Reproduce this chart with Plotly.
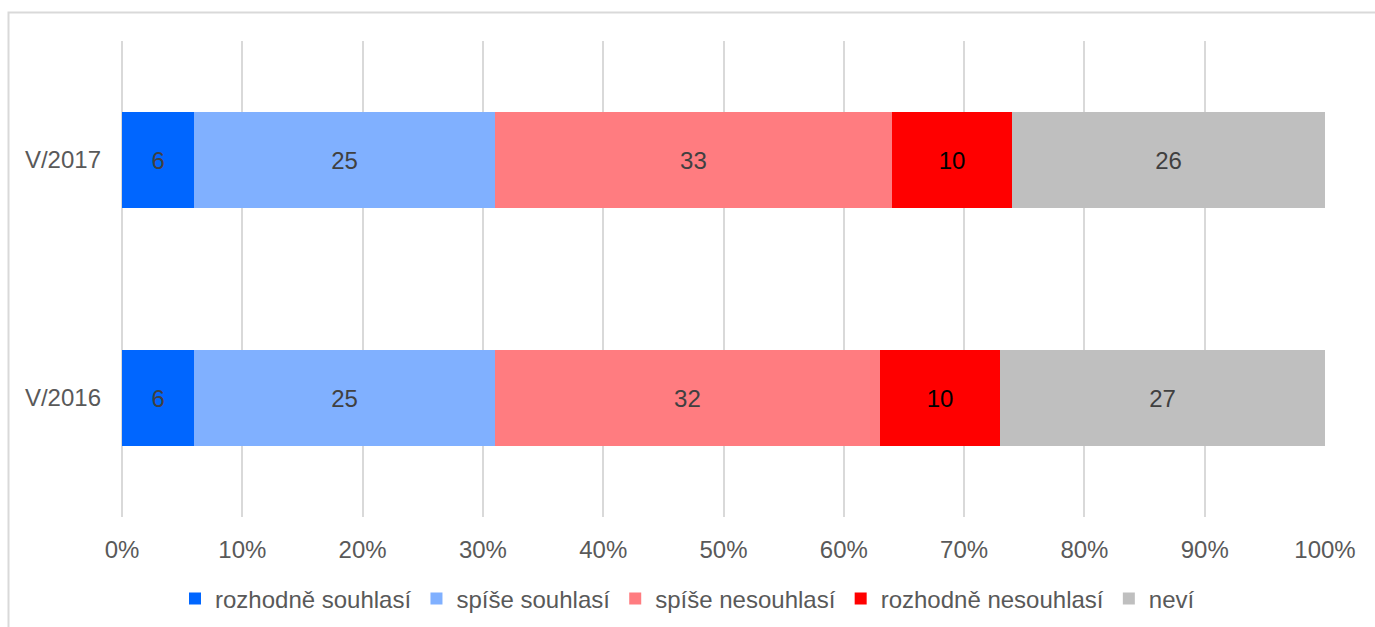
import plotly.graph_objects as go

categories = ["V/2016", "V/2017"]
series_names = ["rozhodně souhlasí", "spíše souhlasí", "spíše nesouhlasí", "rozhodně nesouhlasí", "neví"]
rozhodne_souhlasi = [6, 6]
spise_souhlasi = [25, 25]
spise_nesouhlasi = [32, 33]
rozhodne_nesouhlasi = [10, 10]
nevi = [27, 26]
tick_vals = [0, 10, 20, 30, 40, 50, 60, 70, 80, 90, 100]
tick_text = [f"{v}%" for v in tick_vals]

series_values = [rozhodne_souhlasi, spise_souhlasi, spise_nesouhlasi, rozhodne_nesouhlasi, nevi]
colors = ["#0066FF", "#80B0FF", "#FF7C80", "#FF0000", "#BFBFBF"]
text_colors = ["#404040", "#404040", "#404040", "#000000", "#404040"]

FONT = "Liberation Sans, Arial, sans-serif"
FS = 24

fig = go.Figure()
for name, vals, col, tcol in zip(series_names, series_values, colors, text_colors):
    fig.add_trace(go.Bar(
        y=categories, x=vals, name=name, orientation="h",
        marker=dict(color=col, line=dict(width=0)),
        text=[str(v) for v in vals], textposition="inside",
        insidetextanchor="middle",
        textfont=dict(color=tcol, size=FS, family=FONT),
        hoverinfo="skip",
    ))

L, R, T, B = 122, 50, 41, 110
W, H = 1375, 627
pw = W - L - R
ph = H - T - B

fig.update_layout(
    width=W, height=H,
    barmode="stack", bargap=0.6,
    margin=dict(l=L, r=R, t=T, b=B),
    paper_bgcolor="white", plot_bgcolor="white",
    font=dict(family=FONT, size=FS, color="#595959"),
    xaxis=dict(range=[0, 100], tickvals=tick_vals, ticktext=tick_text,
               showgrid=True, gridcolor="#D9D9D9", gridwidth=1.5,
               zeroline=True, zerolinecolor="#D9D9D9", zerolinewidth=1.5,
               showline=False, ticks="",
               ticklabelstandoff=16, fixedrange=True),
    yaxis=dict(showgrid=False, zeroline=False, showline=False, ticks="",
               ticklabelstandoff=20, fixedrange=True),
    showlegend=True,
    legend=dict(orientation="h", xref="container", yref="container",
                x=0.5, xanchor="center", y=(H - 599) / H, yanchor="middle",
                font=dict(size=FS, color="#595959", family=FONT),
                itemwidth=30, traceorder="normal", bgcolor="rgba(0,0,0,0)"),
    uniformtext=dict(minsize=FS, mode="show"),
    shapes=[dict(type="rect", xref="paper", yref="paper",
                 x0=(8.5 - L) / pw, x1=(W + 20 - L) / pw,
                 y0=(T + ph - (H + 20)) / ph, y1=(T + ph - 12.5) / ph,
                 line=dict(color="#D9D9D9", width=2), fillcolor="rgba(0,0,0,0)",
                 layer="below")],
)

fig.write_html("out.html", config={"displayModeBar": False},
               post_script="document.body.style.margin='0px';document.body.style.overflow='hidden';")
